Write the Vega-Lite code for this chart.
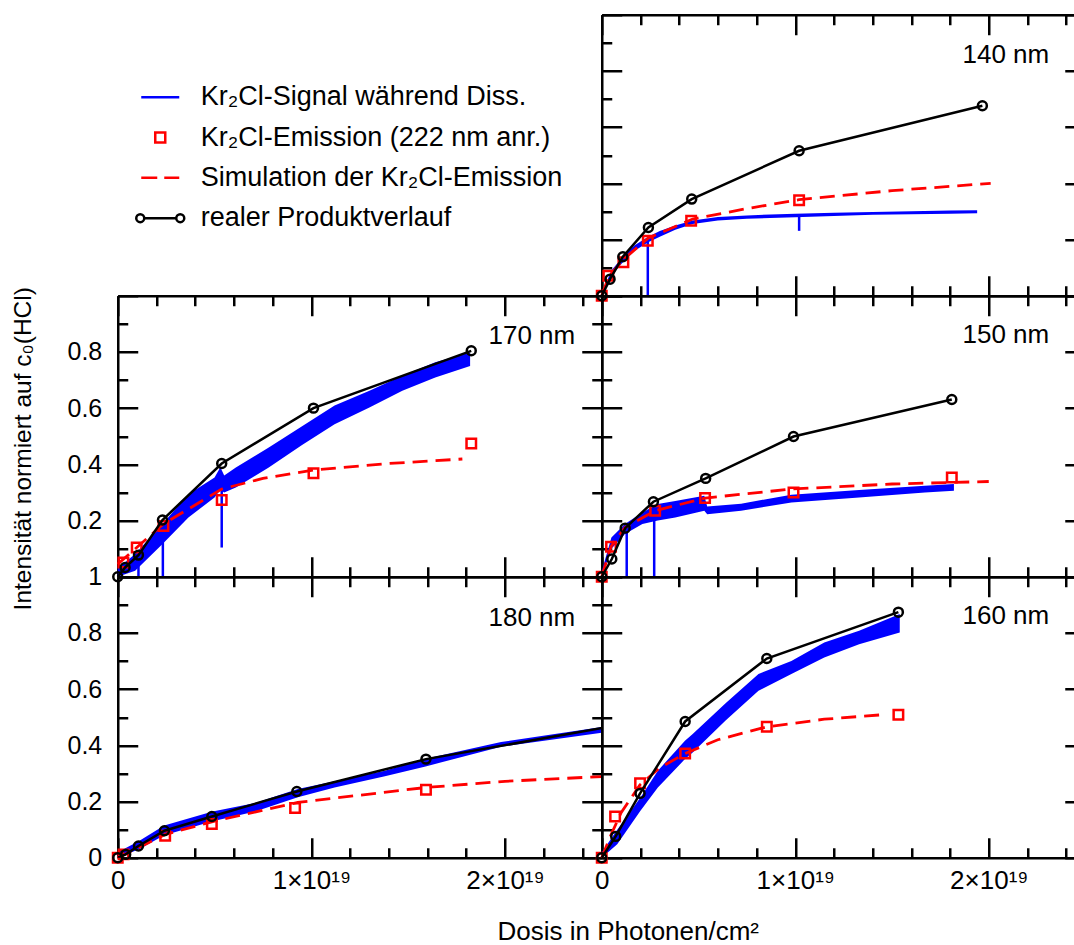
{
"$schema": "https://vega.github.io/schema/vega-lite/v6.json",
"background": "white",
"padding": {"left": 9.75, "top": 12.75, "right": 0, "bottom": 0},
"spacing": 0,
"bounds": "flush",
"columns": 2,
"config": {"view": {"stroke": null}, "font": "Liberation Sans"},
"datasets": {
"leg": [{"series": "Kr₂Cl-Signal während Diss."}, {"series": "Kr₂Cl-Emission (222 nm anr.)"}, {"series": "Simulation der Kr₂Cl-Emission"}, {"series": "realer Produktverlauf"}],
"sig": [
{"p":"140","x":0,"lo":0,"hi":0.01},{"p":"140","x":0.05,"lo":0.07,"hi":0.09},{"p":"140","x":0.11,"lo":0.12,"hi":0.14},{"p":"140","x":0.17,"lo":0.16,"hi":0.18},{"p":"140","x":0.24,"lo":0.19,"hi":0.21},{"p":"140","x":0.3,"lo":0.21,"hi":0.23},{"p":"140","x":0.38,"lo":0.235,"hi":0.25},{"p":"140","x":0.47,"lo":0.255,"hi":0.268},{"p":"140","x":0.6,"lo":0.268,"hi":0.28},{"p":"140","x":0.75,"lo":0.274,"hi":0.286},{"p":"140","x":1.0,"lo":0.279,"hi":0.292},{"p":"140","x":1.2,"lo":0.284,"hi":0.295},{"p":"140","x":1.4,"lo":0.288,"hi":0.298},{"p":"140","x":1.6,"lo":0.29,"hi":0.301},{"p":"140","x":1.8,"lo":0.292,"hi":0.303},{"p":"140","x":1.94,"lo":0.294,"hi":0.304},
{"p":"150","x":0,"lo":0,"hi":0.02},{"p":"150","x":0.05,"lo":0.1,"hi":0.14},{"p":"150","x":0.12,"lo":0.152,"hi":0.188},{"p":"150","x":0.21,"lo":0.188,"hi":0.229},{"p":"150","x":0.29,"lo":0.2,"hi":0.259},{"p":"150","x":0.38,"lo":0.211,"hi":0.27},{"p":"150","x":0.53,"lo":0.235,"hi":0.288},{"p":"150","x":0.545,"lo":0.222,"hi":0.25},{"p":"150","x":0.72,"lo":0.235,"hi":0.26},{"p":"150","x":0.98,"lo":0.264,"hi":0.292},{"p":"150","x":1.33,"lo":0.282,"hi":0.309},{"p":"150","x":1.67,"lo":0.3,"hi":0.324},{"p":"150","x":1.82,"lo":0.306,"hi":0.33},
{"p":"160","x":0,"lo":0,"hi":0.02},{"p":"160","x":0.08,"lo":0.048,"hi":0.1},{"p":"160","x":0.2,"lo":0.167,"hi":0.214},{"p":"160","x":0.29,"lo":0.25,"hi":0.31},{"p":"160","x":0.43,"lo":0.351,"hi":0.416},{"p":"160","x":0.47,"lo":0.375,"hi":0.44},{"p":"160","x":0.64,"lo":0.488,"hi":0.55},{"p":"160","x":0.81,"lo":0.594,"hi":0.654},{"p":"160","x":0.98,"lo":0.654,"hi":0.7},{"p":"160","x":1.15,"lo":0.713,"hi":0.766},{"p":"160","x":1.33,"lo":0.76,"hi":0.808},{"p":"160","x":1.54,"lo":0.802,"hi":0.867},
{"p":"170","x":0,"lo":0,"hi":0.03},{"p":"170","x":0.09,"lo":0.021,"hi":0.081},{"p":"170","x":0.23,"lo":0.116,"hi":0.187},{"p":"170","x":0.365,"lo":0.211,"hi":0.294},{"p":"170","x":0.5,"lo":0.282,"hi":0.353},{"p":"170","x":0.53,"lo":0.31,"hi":0.39},{"p":"170","x":0.55,"lo":0.3,"hi":0.36},{"p":"170","x":0.61,"lo":0.318,"hi":0.389},{"p":"170","x":0.78,"lo":0.389,"hi":0.46},{"p":"170","x":0.95,"lo":0.468,"hi":0.535},{"p":"170","x":1.12,"lo":0.543,"hi":0.609},{"p":"170","x":1.3,"lo":0.602,"hi":0.662},{"p":"170","x":1.47,"lo":0.662,"hi":0.715},{"p":"170","x":1.64,"lo":0.709,"hi":0.763},{"p":"170","x":1.82,"lo":0.75,"hi":0.798},
{"p":"180","x":0,"lo":0,"hi":0.02},{"p":"180","x":0.11,"lo":0.03,"hi":0.06},{"p":"180","x":0.24,"lo":0.08,"hi":0.115},{"p":"180","x":0.49,"lo":0.13,"hi":0.165},{"p":"180","x":0.71,"lo":0.165,"hi":0.195},{"p":"180","x":0.93,"lo":0.215,"hi":0.245},{"p":"180","x":1.12,"lo":0.25,"hi":0.272},{"p":"180","x":1.38,"lo":0.29,"hi":0.31},{"p":"180","x":1.59,"lo":0.325,"hi":0.352},{"p":"180","x":1.98,"lo":0.395,"hi":0.412},{"p":"180","x":2.5,"lo":0.445,"hi":0.465}
],
"spk": [
{"p":"140","x":0.238,"y1":0,"y2":0.196},{"p":"140","x":1.02,"y1":0.231,"y2":0.285},
{"p":"150","x":0.129,"y1":0,"y2":0.16},{"p":"150","x":0.271,"y1":0,"y2":0.23},
{"p":"170","x":0.107,"y1":0,"y2":0.07},{"p":"170","x":0.233,"y1":0,"y2":0.17},{"p":"170","x":0.537,"y1":0.104,"y2":0.32}
],
"sim": [
{"p":"140","x":0,"y":0},{"p":"140","x":0.034,"y":0.065},{"p":"140","x":0.11,"y":0.128},{"p":"140","x":0.24,"y":0.205},{"p":"140","x":0.47,"y":0.273},{"p":"140","x":0.75,"y":0.31},{"p":"140","x":1.02,"y":0.342},{"p":"140","x":1.5,"y":0.374},{"p":"140","x":2.01,"y":0.4},
{"p":"150","x":0,"y":0},{"p":"150","x":0.048,"y":0.107},{"p":"150","x":0.12,"y":0.175},{"p":"150","x":0.276,"y":0.235},{"p":"150","x":0.534,"y":0.28},{"p":"150","x":0.98,"y":0.312},{"p":"150","x":1.5,"y":0.33},{"p":"150","x":2.0,"y":0.339},
{"p":"160","x":0,"y":0},{"p":"160","x":0.05,"y":0.085},{"p":"160","x":0.1,"y":0.16},{"p":"160","x":0.198,"y":0.26},{"p":"160","x":0.3,"y":0.32},{"p":"160","x":0.431,"y":0.371},{"p":"160","x":0.6,"y":0.42},{"p":"160","x":0.853,"y":0.466},{"p":"160","x":1.15,"y":0.493},{"p":"160","x":1.47,"y":0.51},
{"p":"170","x":0,"y":0.045},{"p":"170","x":0.098,"y":0.104},{"p":"170","x":0.236,"y":0.188},{"p":"170","x":0.537,"y":0.312},{"p":"170","x":0.75,"y":0.35},{"p":"170","x":1.011,"y":0.38},{"p":"170","x":1.4,"y":0.403},{"p":"170","x":1.78,"y":0.419},
{"p":"180","x":0,"y":0},{"p":"180","x":0.107,"y":0.036},{"p":"180","x":0.245,"y":0.083},{"p":"180","x":0.486,"y":0.128},{"p":"180","x":0.93,"y":0.197},{"p":"180","x":1.592,"y":0.25},{"p":"180","x":2.0,"y":0.272},{"p":"180","x":2.5,"y":0.289}
],
"emi": [
{"p":"140","x":0,"y":0},{"p":"140","x":0.034,"y":0.071},{"p":"140","x":0.112,"y":0.119},{"p":"140","x":0.238,"y":0.196},{"p":"140","x":0.462,"y":0.267},{"p":"140","x":1.02,"y":0.34},
{"p":"150","x":0,"y":0},{"p":"150","x":0.048,"y":0.107},{"p":"150","x":0.276,"y":0.235},{"p":"150","x":0.534,"y":0.28},{"p":"150","x":0.991,"y":0.3},{"p":"150","x":1.809,"y":0.353},
{"p":"160","x":0,"y":0},{"p":"160","x":0.069,"y":0.147},{"p":"160","x":0.198,"y":0.265},{"p":"160","x":0.431,"y":0.371},{"p":"160","x":0.853,"y":0.466},{"p":"160","x":1.533,"y":0.509},
{"p":"170","x":0.029,"y":0.051},{"p":"170","x":0.098,"y":0.104},{"p":"170","x":0.236,"y":0.181},{"p":"170","x":0.537,"y":0.273},{"p":"170","x":1.011,"y":0.368},{"p":"170","x":1.826,"y":0.474},
{"p":"180","x":0,"y":0},{"p":"180","x":0.03,"y":0.012},{"p":"180","x":0.245,"y":0.078},{"p":"180","x":0.486,"y":0.12},{"p":"180","x":0.916,"y":0.177},{"p":"180","x":1.592,"y":0.242}
],
"prod": [
{"p":"140","x":0,"y":0},{"p":"140","x":0.043,"y":0.059},{"p":"140","x":0.109,"y":0.139},{"p":"140","x":0.241,"y":0.243},{"p":"140","x":0.465,"y":0.344},{"p":"140","x":1.02,"y":0.516},{"p":"140","x":1.967,"y":0.676},
{"p":"150","x":0,"y":0},{"p":"150","x":0.052,"y":0.063},{"p":"150","x":0.121,"y":0.173},{"p":"150","x":0.267,"y":0.267},{"p":"150","x":0.537,"y":0.35},{"p":"150","x":0.991,"y":0.499},{"p":"150","x":1.809,"y":0.631},
{"p":"160","x":0,"y":0},{"p":"160","x":0.072,"y":0.076},{"p":"160","x":0.198,"y":0.229},{"p":"160","x":0.431,"y":0.485},{"p":"160","x":0.853,"y":0.709},{"p":"160","x":1.533,"y":0.874},
{"p":"170","x":0,"y":0},{"p":"170","x":0.038,"y":0.033},{"p":"170","x":0.107,"y":0.077},{"p":"170","x":0.231,"y":0.202},{"p":"170","x":0.537,"y":0.403},{"p":"170","x":1.011,"y":0.6},{"p":"170","x":1.826,"y":0.804},
{"p":"180","x":0,"y":0},{"p":"180","x":0.041,"y":0.012},{"p":"180","x":0.107,"y":0.042},{"p":"180","x":0.241,"y":0.096},{"p":"180","x":0.486,"y":0.147},{"p":"180","x":0.925,"y":0.236},{"p":"180","x":1.592,"y":0.351},{"p":"180","x":2.7,"y":0.486}
]
},
"concat": [
{
"width": 484, "height": 281,
"data": {"name": "leg"},
"mark": {"type": "point", "opacity": 0, "filled": false},
"encoding": {
"color": {"field": "series", "type": "nominal", "sort": null,
"scale": {"domain": ["Kr₂Cl-Signal während Diss.", "Kr₂Cl-Emission (222 nm anr.)", "Simulation der Kr₂Cl-Emission", "realer Produktverlauf"], "range": ["#0000ff", "#ff0000", "#ff0000", "#000000"]},
"legend": {"orient": "none", "legendX": 29, "legendY": 69, "title": null, "padding": 0, "columns": 1, "direction": "vertical",
"labelFont": "Liberation Sans", "labelFontSize": 27, "labelColor": "#000000", "labelLimit": 0, "labelOffset": 27, "rowPadding": 12.3,
"symbolSize": 400, "symbolStrokeWidth": 2.5, "symbolOpacity": 1, "symbolFillColor": "transparent"}},
"shape": {"field": "series", "type": "nominal", "sort": null,
"scale": {"domain": ["Kr₂Cl-Signal während Diss.", "Kr₂Cl-Emission (222 nm anr.)", "Simulation der Kr₂Cl-Emission", "realer Produktverlauf"],
"range": ["M-1.9,0L1.9,0", "M-0.5,-0.5L0.5,-0.5L0.5,0.5L-0.5,0.5Z", "M-1.9,0L-0.3,0M0.4,0L1.9,0", "M-1.6,0L1.6,0M-1.6,0A0.4,0.4 0 1,0 -2.4,0A0.4,0.4 0 1,0 -1.6,0M2.4,0A0.4,0.4 0 1,0 1.6,0A0.4,0.4 0 1,0 2.4,0"]},
"legend": {"orient": "none", "legendX": 29, "legendY": 69, "title": null, "padding": 0, "columns": 1, "direction": "vertical",
"labelFont": "Liberation Sans", "labelFontSize": 27, "labelColor": "#000000", "labelLimit": 0, "labelOffset": 27, "rowPadding": 12.3,
"symbolSize": 400, "symbolStrokeWidth": 2.5, "symbolOpacity": 1, "symbolFillColor": "transparent"}}
}
},
{
"width": 473, "height": 281,
"layer": [
{"data": {"name": "sig"}, "transform": [{"filter": "datum.p=='140'"}], "mark": {"type": "area", "color": "#0000ff", "opacity": 1},
"encoding": {"x": {"field": "x", "type": "quantitative", "scale": {"domain": [0, 2.4444], "nice": false, "zero": false},
"axis": {"orient": "bottom", "values": [0,0.2,0.4,0.6,0.8,1,1.2,1.4,1.6,1.8,2,2.2,2.4], "labels": false, "title": null, "grid": false, "domainColor": "#000000", "domainWidth": 2.5, "tickColor": "#000000", "tickWidth": 2.5, "tickSize": {"condition": {"test": "round(datum.value*5)%5==0", "value": -20}, "value": -10}}},
"y": {"field": "lo", "type": "quantitative", "scale": {"domain": [0, 1], "nice": false, "zero": false},
"axis": {"orient": "left", "values": [0,0.1,0.2,0.3,0.4,0.5,0.6,0.7,0.8,0.9,1], "labels": false, "title": null, "grid": false, "domainColor": "#000000", "domainWidth": 2.5, "tickColor": "#000000", "tickWidth": 2.5, "tickSize": {"condition": {"test": "round(datum.value*10)%2==0", "value": -20}, "value": -10}}},
"y2": {"field": "hi"}}},
{"data": {"name": "spk"}, "transform": [{"filter": "datum.p=='140'"}], "mark": {"type": "rule", "color": "#0000ff", "strokeWidth": 2.5},
"encoding": {"x": {"field": "x", "type": "quantitative", "scale": {"domain": [0, 2.4444], "nice": false, "zero": false}, "axis": null}, "y": {"field": "y1", "type": "quantitative", "scale": {"domain": [0, 1], "nice": false, "zero": false}, "axis": null}, "y2": {"field": "y2"}}},
{"data": {"name": "sim"}, "transform": [{"filter": "datum.p=='140'"}], "mark": {"type": "line", "color": "#ff0000", "strokeWidth": 2.8, "strokeDash": [15, 8]},
"encoding": {"x": {"field": "x", "type": "quantitative", "scale": {"domain": [0, 2.4444], "nice": false, "zero": false},
"axis": {"orient": "top", "values": [0,0.2,0.4,0.6,0.8,1,1.2,1.4,1.6,1.8,2,2.2,2.4], "labels": false, "grid": false, "domainColor": "#000000", "domainWidth": 2.5, "tickColor": "#000000", "tickWidth": 2.5, "tickSize": {"condition": {"test": "round(datum.value*5)%5==0", "value": -20}, "value": -10},
"title": "140 nm", "titleX": 447, "titleY": 48, "titleAlign": "right", "titleBaseline": "alphabetic", "titleAngle": 0, "titleFont": "Liberation Sans", "titleFontSize": 26, "titleFontWeight": "normal", "titleColor": "#000000"}},
"y": {"field": "y", "type": "quantitative", "scale": {"domain": [0, 1], "nice": false, "zero": false},
"axis": {"orient": "right", "values": [0,0.1,0.2,0.3,0.4,0.5,0.6,0.7,0.8,0.9,1], "labels": false, "title": null, "grid": false, "domain": false, "tickColor": "#000000", "tickWidth": 2.5, "tickSize": {"condition": {"test": "round(datum.value*10)%2==0", "value": -10}, "value": 0}}}}},
{"data": {"name": "emi"}, "transform": [{"filter": "datum.p=='140'"}], "mark": {"type": "point", "shape": "square", "filled": false, "color": "#ff0000", "size": 90, "strokeWidth": 2.5, "opacity": 1},
"encoding": {"x": {"field": "x", "type": "quantitative", "scale": {"domain": [0, 2.4444], "nice": false, "zero": false}, "axis": null}, "y": {"field": "y", "type": "quantitative", "scale": {"domain": [0, 1], "nice": false, "zero": false}, "axis": null}}},
{"data": {"name": "prod"}, "transform": [{"filter": "datum.p=='140'"}], "mark": {"type": "line", "color": "#000000", "strokeWidth": 2.5},
"encoding": {"x": {"field": "x", "type": "quantitative", "scale": {"domain": [0, 2.4444], "nice": false, "zero": false}, "axis": null}, "y": {"field": "y", "type": "quantitative", "scale": {"domain": [0, 1], "nice": false, "zero": false}, "axis": null}}},
{"data": {"name": "prod"}, "transform": [{"filter": "datum.p=='140'"}], "mark": {"type": "point", "shape": "circle", "filled": false, "color": "#000000", "size": 80, "strokeWidth": 2.5, "opacity": 1},
"encoding": {"x": {"field": "x", "type": "quantitative", "scale": {"domain": [0, 2.4444], "nice": false, "zero": false}, "axis": null}, "y": {"field": "y", "type": "quantitative", "scale": {"domain": [0, 1], "nice": false, "zero": false}, "axis": null}}}
],
"resolve": {"axis": {"x": "independent", "y": "independent"}}
},
{
"width": 484, "height": 281,
"layer": [
{"data": {"name": "sig"}, "transform": [{"filter": "datum.p=='170'"}], "mark": {"type": "area", "color": "#0000ff", "opacity": 1},
"encoding": {"x": {"field": "x", "type": "quantitative", "scale": {"domain": [0, 2.5], "nice": false, "zero": false},
"axis": {"orient": "bottom", "values": [0,0.2,0.4,0.6,0.8,1,1.2,1.4,1.6,1.8,2,2.2,2.4], "labels": false, "title": null, "grid": false, "domainColor": "#000000", "domainWidth": 2.5, "tickColor": "#000000", "tickWidth": 2.5, "tickSize": {"condition": {"test": "round(datum.value*5)%5==0", "value": -20}, "value": -10}}},
"y": {"field": "lo", "type": "quantitative", "scale": {"domain": [0, 1], "nice": false, "zero": false},
"axis": {"orient": "left", "values": [0,0.1,0.2,0.3,0.4,0.5,0.6,0.7,0.8,0.9,1], "labels": false, "title": null, "grid": false, "domainColor": "#000000", "domainWidth": 2.5, "tickColor": "#000000", "tickWidth": 2.5, "tickSize": {"condition": {"test": "round(datum.value*10)%2==0", "value": -20}, "value": -10}}},
"y2": {"field": "hi"}}},
{"data": {"name": "spk"}, "transform": [{"filter": "datum.p=='170'"}], "mark": {"type": "rule", "color": "#0000ff", "strokeWidth": 2.5},
"encoding": {"x": {"field": "x", "type": "quantitative", "scale": {"domain": [0, 2.5], "nice": false, "zero": false}, "axis": null}, "y": {"field": "y1", "type": "quantitative", "scale": {"domain": [0, 1], "nice": false, "zero": false}, "axis": null}, "y2": {"field": "y2"}}},
{"data": {"name": "sim"}, "transform": [{"filter": "datum.p=='170'"}], "mark": {"type": "line", "color": "#ff0000", "strokeWidth": 2.8, "strokeDash": [15, 8]},
"encoding": {"x": {"field": "x", "type": "quantitative", "scale": {"domain": [0, 2.5], "nice": false, "zero": false},
"axis": {"orient": "top", "values": [0,0.2,0.4,0.6,0.8,1,1.2,1.4,1.6,1.8,2,2.2,2.4], "labels": false, "grid": false, "domainColor": "#000000", "domainWidth": 2.5, "tickColor": "#000000", "tickWidth": 2.5, "tickSize": {"condition": {"test": "round(datum.value*5)%5==0", "value": -20}, "value": -10},
"title": "170 nm", "titleX": 457, "titleY": 48, "titleAlign": "right", "titleBaseline": "alphabetic", "titleAngle": 0, "titleFont": "Liberation Sans", "titleFontSize": 26, "titleFontWeight": "normal", "titleColor": "#000000"}},
"y": {"field": "y", "type": "quantitative", "scale": {"domain": [0, 1], "nice": false, "zero": false},
"axis": {"orient": "right", "values": [0,0.1,0.2,0.3,0.4,0.5,0.6,0.7,0.8,0.9,1], "labels": false, "title": null, "grid": false, "domainColor": "#000000", "domainWidth": 2.5, "tickColor": "#000000", "tickWidth": 2.5, "tickSize": {"condition": {"test": "round(datum.value*10)%2==0", "value": -20}, "value": -10}}}}},
{"data": {"name": "emi"}, "transform": [{"filter": "datum.p=='170'"}], "mark": {"type": "point", "shape": "square", "filled": false, "color": "#ff0000", "size": 90, "strokeWidth": 2.5, "opacity": 1},
"encoding": {"x": {"field": "x", "type": "quantitative", "scale": {"domain": [0, 2.5], "nice": false, "zero": false}, "axis": null}, "y": {"field": "y", "type": "quantitative", "scale": {"domain": [0, 1], "nice": false, "zero": false}, "axis": null}}},
{"data": {"name": "prod"}, "transform": [{"filter": "datum.p=='170'"}], "mark": {"type": "line", "color": "#000000", "strokeWidth": 2.5},
"encoding": {"x": {"field": "x", "type": "quantitative", "scale": {"domain": [0, 2.5], "nice": false, "zero": false}, "axis": null},
"y": {"field": "y", "type": "quantitative", "scale": {"domain": [0, 1], "nice": false, "zero": false},
"axis": {"orient": "left", "values": [0.2,0.4,0.6,0.8], "ticks": false, "domain": false, "grid": false, "labelExpr": "format(datum.value,'.1f')", "labelFontSize": 25, "labelFont": "Liberation Sans", "labelColor": "#000000", "labelPadding": 16, "labelOverlap": false, "labelFlush": false, "labelBound": false,
"title": "Intensität normiert auf c₀(HCl)", "titleFont": "Liberation Sans", "titleFontSize": 24.5, "titleFontWeight": "normal", "titleColor": "#000000", "titleX": -94, "titleY": 152.5, "titleAngle": -90, "titleAlign": "center", "titleBaseline": "middle"}}}},
{"data": {"name": "prod"}, "transform": [{"filter": "datum.p=='170'"}], "mark": {"type": "point", "shape": "circle", "filled": false, "color": "#000000", "size": 80, "strokeWidth": 2.5, "opacity": 1},
"encoding": {"x": {"field": "x", "type": "quantitative", "scale": {"domain": [0, 2.5], "nice": false, "zero": false}, "axis": null}, "y": {"field": "y", "type": "quantitative", "scale": {"domain": [0, 1], "nice": false, "zero": false}, "axis": null}}}
],
"resolve": {"axis": {"x": "independent", "y": "independent"}}
},
{
"width": 473, "height": 281,
"layer": [
{"data": {"name": "sig"}, "transform": [{"filter": "datum.p=='150'"}], "mark": {"type": "area", "color": "#0000ff", "opacity": 1},
"encoding": {"x": {"field": "x", "type": "quantitative", "scale": {"domain": [0, 2.4444], "nice": false, "zero": false},
"axis": {"orient": "bottom", "values": [0,0.2,0.4,0.6,0.8,1,1.2,1.4,1.6,1.8,2,2.2,2.4], "labels": false, "title": null, "grid": false, "domainColor": "#000000", "domainWidth": 2.5, "tickColor": "#000000", "tickWidth": 2.5, "tickSize": {"condition": {"test": "round(datum.value*5)%5==0", "value": -20}, "value": -10}}},
"y": {"field": "lo", "type": "quantitative", "scale": {"domain": [0, 1], "nice": false, "zero": false},
"axis": {"orient": "left", "values": [0,0.1,0.2,0.3,0.4,0.5,0.6,0.7,0.8,0.9,1], "labels": false, "title": null, "grid": false, "domainColor": "#000000", "domainWidth": 2.5, "tickColor": "#000000", "tickWidth": 2.5, "tickSize": {"condition": {"test": "round(datum.value*10)%2==0", "value": -20}, "value": -10}}},
"y2": {"field": "hi"}}},
{"data": {"name": "spk"}, "transform": [{"filter": "datum.p=='150'"}], "mark": {"type": "rule", "color": "#0000ff", "strokeWidth": 2.5},
"encoding": {"x": {"field": "x", "type": "quantitative", "scale": {"domain": [0, 2.4444], "nice": false, "zero": false}, "axis": null}, "y": {"field": "y1", "type": "quantitative", "scale": {"domain": [0, 1], "nice": false, "zero": false}, "axis": null}, "y2": {"field": "y2"}}},
{"data": {"name": "sim"}, "transform": [{"filter": "datum.p=='150'"}], "mark": {"type": "line", "color": "#ff0000", "strokeWidth": 2.8, "strokeDash": [15, 8]},
"encoding": {"x": {"field": "x", "type": "quantitative", "scale": {"domain": [0, 2.4444], "nice": false, "zero": false},
"axis": {"orient": "top", "values": [0,0.2,0.4,0.6,0.8,1,1.2,1.4,1.6,1.8,2,2.2,2.4], "labels": false, "grid": false, "domainColor": "#000000", "domainWidth": 2.5, "tickColor": "#000000", "tickWidth": 2.5, "tickSize": {"condition": {"test": "round(datum.value*5)%5==0", "value": -20}, "value": -10},
"title": "150 nm", "titleX": 447, "titleY": 47, "titleAlign": "right", "titleBaseline": "alphabetic", "titleAngle": 0, "titleFont": "Liberation Sans", "titleFontSize": 26, "titleFontWeight": "normal", "titleColor": "#000000"}},
"y": {"field": "y", "type": "quantitative", "scale": {"domain": [0, 1], "nice": false, "zero": false},
"axis": {"orient": "right", "values": [0,0.1,0.2,0.3,0.4,0.5,0.6,0.7,0.8,0.9,1], "labels": false, "title": null, "grid": false, "domain": false, "tickColor": "#000000", "tickWidth": 2.5, "tickSize": {"condition": {"test": "round(datum.value*10)%2==0", "value": -10}, "value": 0}}}}},
{"data": {"name": "emi"}, "transform": [{"filter": "datum.p=='150'"}], "mark": {"type": "point", "shape": "square", "filled": false, "color": "#ff0000", "size": 90, "strokeWidth": 2.5, "opacity": 1},
"encoding": {"x": {"field": "x", "type": "quantitative", "scale": {"domain": [0, 2.4444], "nice": false, "zero": false}, "axis": null}, "y": {"field": "y", "type": "quantitative", "scale": {"domain": [0, 1], "nice": false, "zero": false}, "axis": null}}},
{"data": {"name": "prod"}, "transform": [{"filter": "datum.p=='150'"}], "mark": {"type": "line", "color": "#000000", "strokeWidth": 2.5},
"encoding": {"x": {"field": "x", "type": "quantitative", "scale": {"domain": [0, 2.4444], "nice": false, "zero": false}, "axis": null}, "y": {"field": "y", "type": "quantitative", "scale": {"domain": [0, 1], "nice": false, "zero": false}, "axis": null}}},
{"data": {"name": "prod"}, "transform": [{"filter": "datum.p=='150'"}], "mark": {"type": "point", "shape": "circle", "filled": false, "color": "#000000", "size": 80, "strokeWidth": 2.5, "opacity": 1},
"encoding": {"x": {"field": "x", "type": "quantitative", "scale": {"domain": [0, 2.4444], "nice": false, "zero": false}, "axis": null}, "y": {"field": "y", "type": "quantitative", "scale": {"domain": [0, 1], "nice": false, "zero": false}, "axis": null}}}
],
"resolve": {"axis": {"x": "independent", "y": "independent"}}
},
{
"width": 484, "height": 281,
"layer": [
{"data": {"name": "sig"}, "transform": [{"filter": "datum.p=='180'"}], "mark": {"type": "area", "color": "#0000ff", "opacity": 1},
"encoding": {"x": {"field": "x", "type": "quantitative", "scale": {"domain": [0, 2.5], "nice": false, "zero": false},
"axis": {"orient": "bottom", "values": [0,0.2,0.4,0.6,0.8,1,1.2,1.4,1.6,1.8,2,2.2,2.4], "labels": false, "title": null, "grid": false, "domainColor": "#000000", "domainWidth": 2.5, "tickColor": "#000000", "tickWidth": 2.5, "tickSize": {"condition": {"test": "round(datum.value*5)%5==0", "value": -20}, "value": -10}}},
"y": {"field": "lo", "type": "quantitative", "scale": {"domain": [0, 1], "nice": false, "zero": false},
"axis": {"orient": "left", "values": [0,0.1,0.2,0.3,0.4,0.5,0.6,0.7,0.8,0.9,1], "labels": false, "title": null, "grid": false, "domainColor": "#000000", "domainWidth": 2.5, "tickColor": "#000000", "tickWidth": 2.5, "tickSize": {"condition": {"test": "round(datum.value*10)%2==0", "value": -20}, "value": -10}}},
"y2": {"field": "hi"}}},
{"data": {"name": "sim"}, "transform": [{"filter": "datum.p=='180'"}], "mark": {"type": "line", "color": "#ff0000", "strokeWidth": 2.8, "strokeDash": [15, 8]},
"encoding": {"x": {"field": "x", "type": "quantitative", "scale": {"domain": [0, 2.5], "nice": false, "zero": false},
"axis": {"orient": "top", "values": [0,0.2,0.4,0.6,0.8,1,1.2,1.4,1.6,1.8,2,2.2,2.4], "labels": false, "grid": false, "domainColor": "#000000", "domainWidth": 2.5, "tickColor": "#000000", "tickWidth": 2.5, "tickSize": {"condition": {"test": "round(datum.value*5)%5==0", "value": -20}, "value": -10},
"title": "180 nm", "titleX": 457, "titleY": 49, "titleAlign": "right", "titleBaseline": "alphabetic", "titleAngle": 0, "titleFont": "Liberation Sans", "titleFontSize": 26, "titleFontWeight": "normal", "titleColor": "#000000"}},
"y": {"field": "y", "type": "quantitative", "scale": {"domain": [0, 1], "nice": false, "zero": false},
"axis": {"orient": "right", "values": [0,0.1,0.2,0.3,0.4,0.5,0.6,0.7,0.8,0.9,1], "labels": false, "title": null, "grid": false, "domainColor": "#000000", "domainWidth": 2.5, "tickColor": "#000000", "tickWidth": 2.5, "tickSize": {"condition": {"test": "round(datum.value*10)%2==0", "value": -20}, "value": -10}}}}},
{"data": {"name": "emi"}, "transform": [{"filter": "datum.p=='180'"}], "mark": {"type": "point", "shape": "square", "filled": false, "color": "#ff0000", "size": 90, "strokeWidth": 2.5, "opacity": 1},
"encoding": {"x": {"field": "x", "type": "quantitative", "scale": {"domain": [0, 2.5], "nice": false, "zero": false}, "axis": null}, "y": {"field": "y", "type": "quantitative", "scale": {"domain": [0, 1], "nice": false, "zero": false}, "axis": null}}},
{"data": {"name": "prod"}, "transform": [{"filter": "datum.p=='180'"}], "mark": {"type": "line", "color": "#000000", "strokeWidth": 2.5, "clip": true},
"encoding": {"x": {"field": "x", "type": "quantitative", "scale": {"domain": [0, 2.5], "nice": false, "zero": false},
"axis": {"orient": "bottom", "values": [0, 1, 2], "ticks": false, "domain": false, "grid": false, "labelExpr": "datum.value==0?'0':datum.value+'×10¹⁹'", "labelFontSize": 26, "labelFont": "Liberation Sans", "labelColor": "#000000", "labelPadding": 10, "labelOverlap": false, "labelFlush": false, "labelBound": false,
"title": "Dosis in Photonen/cm²", "titleFont": "Liberation Sans", "titleFontSize": 26, "titleFontWeight": "normal", "titleColor": "#000000", "titleX": 510, "titleY": 82, "titleAlign": "center", "titleBaseline": "alphabetic"}},
"y": {"field": "y", "type": "quantitative", "scale": {"domain": [0, 1], "nice": false, "zero": false},
"axis": {"orient": "left", "values": [0,0.2,0.4,0.6,0.8,1], "ticks": false, "domain": false, "grid": false, "labelExpr": "datum.value==0?'0':datum.value==1?'1':format(datum.value,'.1f')", "labelFontSize": 25, "labelFont": "Liberation Sans", "labelColor": "#000000", "labelPadding": 16, "labelOverlap": false, "labelFlush": false, "labelBound": false, "title": null}}}},
{"data": {"name": "prod"}, "transform": [{"filter": "datum.p=='180' && datum.x<=2.5"}], "mark": {"type": "point", "shape": "circle", "filled": false, "color": "#000000", "size": 80, "strokeWidth": 2.5, "opacity": 1},
"encoding": {"x": {"field": "x", "type": "quantitative", "scale": {"domain": [0, 2.5], "nice": false, "zero": false}, "axis": null}, "y": {"field": "y", "type": "quantitative", "scale": {"domain": [0, 1], "nice": false, "zero": false}, "axis": null}}}
],
"resolve": {"axis": {"x": "independent", "y": "independent"}}
},
{
"width": 473, "height": 281,
"layer": [
{"data": {"name": "sig"}, "transform": [{"filter": "datum.p=='160'"}], "mark": {"type": "area", "color": "#0000ff", "opacity": 1},
"encoding": {"x": {"field": "x", "type": "quantitative", "scale": {"domain": [0, 2.4444], "nice": false, "zero": false},
"axis": {"orient": "bottom", "values": [0,0.2,0.4,0.6,0.8,1,1.2,1.4,1.6,1.8,2,2.2,2.4], "labels": false, "title": null, "grid": false, "domainColor": "#000000", "domainWidth": 2.5, "tickColor": "#000000", "tickWidth": 2.5, "tickSize": {"condition": {"test": "round(datum.value*5)%5==0", "value": -20}, "value": -10}}},
"y": {"field": "lo", "type": "quantitative", "scale": {"domain": [0, 1], "nice": false, "zero": false},
"axis": {"orient": "left", "values": [0,0.1,0.2,0.3,0.4,0.5,0.6,0.7,0.8,0.9,1], "labels": false, "title": null, "grid": false, "domainColor": "#000000", "domainWidth": 2.5, "tickColor": "#000000", "tickWidth": 2.5, "tickSize": {"condition": {"test": "round(datum.value*10)%2==0", "value": -20}, "value": -10}}},
"y2": {"field": "hi"}}},
{"data": {"name": "sim"}, "transform": [{"filter": "datum.p=='160'"}], "mark": {"type": "line", "color": "#ff0000", "strokeWidth": 2.8, "strokeDash": [15, 8]},
"encoding": {"x": {"field": "x", "type": "quantitative", "scale": {"domain": [0, 2.4444], "nice": false, "zero": false},
"axis": {"orient": "top", "values": [0,0.2,0.4,0.6,0.8,1,1.2,1.4,1.6,1.8,2,2.2,2.4], "labels": false, "grid": false, "domainColor": "#000000", "domainWidth": 2.5, "tickColor": "#000000", "tickWidth": 2.5, "tickSize": {"condition": {"test": "round(datum.value*5)%5==0", "value": -20}, "value": -10},
"title": "160 nm", "titleX": 447, "titleY": 47, "titleAlign": "right", "titleBaseline": "alphabetic", "titleAngle": 0, "titleFont": "Liberation Sans", "titleFontSize": 26, "titleFontWeight": "normal", "titleColor": "#000000"}},
"y": {"field": "y", "type": "quantitative", "scale": {"domain": [0, 1], "nice": false, "zero": false},
"axis": {"orient": "right", "values": [0,0.1,0.2,0.3,0.4,0.5,0.6,0.7,0.8,0.9,1], "labels": false, "title": null, "grid": false, "domain": false, "tickColor": "#000000", "tickWidth": 2.5, "tickSize": {"condition": {"test": "round(datum.value*10)%2==0", "value": -10}, "value": 0}}}}},
{"data": {"name": "emi"}, "transform": [{"filter": "datum.p=='160'"}], "mark": {"type": "point", "shape": "square", "filled": false, "color": "#ff0000", "size": 90, "strokeWidth": 2.5, "opacity": 1},
"encoding": {"x": {"field": "x", "type": "quantitative", "scale": {"domain": [0, 2.4444], "nice": false, "zero": false}, "axis": null}, "y": {"field": "y", "type": "quantitative", "scale": {"domain": [0, 1], "nice": false, "zero": false}, "axis": null}}},
{"data": {"name": "prod"}, "transform": [{"filter": "datum.p=='160'"}], "mark": {"type": "line", "color": "#000000", "strokeWidth": 2.5},
"encoding": {"x": {"field": "x", "type": "quantitative", "scale": {"domain": [0, 2.4444], "nice": false, "zero": false},
"axis": {"orient": "bottom", "values": [0, 1, 2], "ticks": false, "domain": false, "grid": false, "labelExpr": "datum.value==0?'0':datum.value+'×10¹⁹'", "labelFontSize": 26, "labelFont": "Liberation Sans", "labelColor": "#000000", "labelPadding": 10, "labelOverlap": false, "labelFlush": false, "labelBound": false, "title": null}},
"y": {"field": "y", "type": "quantitative", "scale": {"domain": [0, 1], "nice": false, "zero": false}, "axis": null}}},
{"data": {"name": "prod"}, "transform": [{"filter": "datum.p=='160'"}], "mark": {"type": "point", "shape": "circle", "filled": false, "color": "#000000", "size": 80, "strokeWidth": 2.5, "opacity": 1},
"encoding": {"x": {"field": "x", "type": "quantitative", "scale": {"domain": [0, 2.4444], "nice": false, "zero": false}, "axis": null}, "y": {"field": "y", "type": "quantitative", "scale": {"domain": [0, 1], "nice": false, "zero": false}, "axis": null}}}
],
"resolve": {"axis": {"x": "independent", "y": "independent"}}
}
]
}
